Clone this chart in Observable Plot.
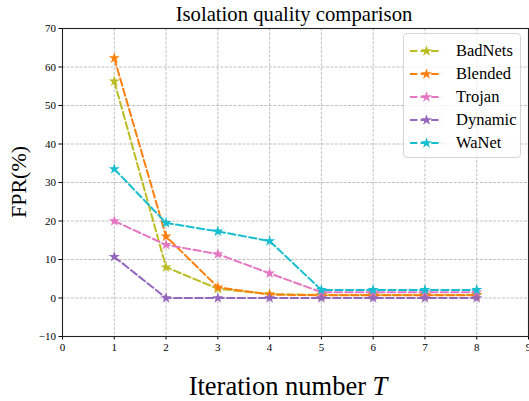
<!DOCTYPE html>
<html><head><meta charset="utf-8">
<script src="https://cdn.jsdelivr.net/npm/d3@7"></script>
<script src="https://cdn.jsdelivr.net/npm/@observablehq/plot@0.6"></script>
<style>
body{margin:0;background:#fff;}
#wrap{position:relative;width:529px;height:401px;font-family:"Liberation Serif","Times New Roman",serif;color:#000;overflow:hidden;}
#wrap svg{display:block;}
.title{position:absolute;left:61px;width:466px;top:4px;text-align:center;font-size:20.7px;line-height:20.5px;white-space:nowrap;}
.xlabel{position:absolute;left:55px;width:466px;top:373px;text-align:center;font-size:26.5px;line-height:26px;white-space:nowrap;}
.ylabel{position:absolute;left:19px;top:182px;transform:translate(-50%,-50%) rotate(-90deg);font-size:22px;line-height:22px;white-space:nowrap;}
.legend{position:absolute;left:403px;top:33px;width:116px;height:123px;border:1px solid #d5d5d5;border-radius:4px;background:rgba(255,255,255,0.8);}
.row{position:absolute;left:0;height:20px;width:116px;}
.row svg{position:absolute;left:5px;top:3px;}
.row span{position:absolute;left:52px;top:0;font-size:16.5px;line-height:20px;white-space:nowrap;}
</style></head><body><div id="wrap"></div>
<script>
const iterations = [1, 2, 3, 4, 5, 6, 7, 8];
const seriesNames = ["BadNets", "Blended", "Trojan", "Dynamic", "WaNet"];
const seriesColors = ["#bcbd22", "#ff7f0e", "#e377c2", "#9467bd", "#17becf"];
const badnets = [56.3, 8.0, 2.4, 1.0, 0.8, 0.8, 0.8, 0.8];
const blended = [62.3, 16.0, 2.8, 0.9, 0.7, 0.7, 0.7, 0.7];
const trojan  = [20.0, 13.8, 11.4, 6.4, 1.5, 1.5, 1.5, 1.5];
const dynamic = [10.7, 0.0, 0.0, 0.0, 0.0, 0.0, 0.0, 0.0];
const wanet   = [33.5, 19.5, 17.3, 14.8, 2.1, 2.1, 2.1, 2.1];
const xTicks = [0, 1, 2, 3, 4, 5, 6, 7, 8, 9];
const yTicks = [-10, 0, 10, 20, 30, 40, 50, 60, 70];
const titleText = "Isolation quality comparison";
const yLabelText = "FPR(%)";
const xLabelText = "Iteration number ";
const xLabelVar = "T";

const valuesBySeries = [badnets, blended, trojan, dynamic, wanet];
const rows = seriesNames.map((s, i) => iterations.map((t, j) => ({series: s, t, v: valuesBySeries[i][j]})));

const R = 3.5;
const dash = "7.4,3.2";
const marks = [
  Plot.gridX(xTicks, {stroke: "#b0b0b0", strokeOpacity: 1, strokeWidth: 0.8, strokeDasharray: "3,1.4"}),
  Plot.gridY(yTicks, {stroke: "#b0b0b0", strokeOpacity: 1, strokeWidth: 0.8, strokeDasharray: "3,1.4"}),
];
rows.forEach((d) => {
  marks.push(Plot.line(d, {x: "t", y: "v", stroke: "series", strokeWidth: 2, strokeDasharray: dash}));
  marks.push(Plot.dot(d, {x: "t", y: "v", fill: "series", symbol: "star", r: R}));
});
marks.push(Plot.axisX(xTicks, {tickSize: 3.5, tickPadding: 3, label: null, fontSize: 11}));
marks.push(Plot.axisY(yTicks, {tickSize: 3.5, tickPadding: 3, label: null, fontSize: 11}));
marks.push(Plot.frame({stroke: "#222", strokeWidth: 1.1}));

const chart = Plot.plot({
  width: 529, height: 401,
  marginTop: 28, marginRight: 1, marginBottom: 65, marginLeft: 62,
  style: {fontFamily: "Liberation Serif, Times New Roman, serif", fontSize: "11px", background: "#fff", color: "#000"},
  x: {domain: [0, 9]},
  y: {domain: [-10, 70]},
  color: {domain: seriesNames, range: seriesColors},
  marks
});
const wrap = document.getElementById("wrap");
wrap.appendChild(chart);

const title = document.createElement("div");
title.className = "title"; title.textContent = titleText; wrap.appendChild(title);
const yl = document.createElement("div");
yl.className = "ylabel"; yl.textContent = yLabelText; wrap.appendChild(yl);
const xl = document.createElement("div");
xl.className = "xlabel";
xl.appendChild(document.createTextNode(xLabelText));
const it = document.createElement("i"); it.textContent = xLabelVar; xl.appendChild(it);
wrap.appendChild(xl);

const legend = document.createElement("div");
legend.className = "legend";
const starPath = d3.symbol(d3.symbolStar, R * R * Math.PI)();
seriesNames.forEach((s, i) => {
  const row = document.createElement("div");
  row.className = "row";
  row.style.top = (6.6 + 23 * i) + "px";
  const svg = d3.create("svg").attr("width", 36).attr("height", 14);
  svg.append("line").attr("x1", 1).attr("x2", 33).attr("y1", 7).attr("y2", 7)
    .attr("stroke", seriesColors[i]).attr("stroke-width", 2).attr("stroke-dasharray", dash);
  svg.append("path").attr("d", starPath).attr("transform", "translate(17.5,7)").attr("fill", seriesColors[i]);
  row.appendChild(svg.node());
  const sp = document.createElement("span");
  sp.textContent = s;
  row.appendChild(sp);
  legend.appendChild(row);
});
wrap.appendChild(legend);
</script></body></html>
